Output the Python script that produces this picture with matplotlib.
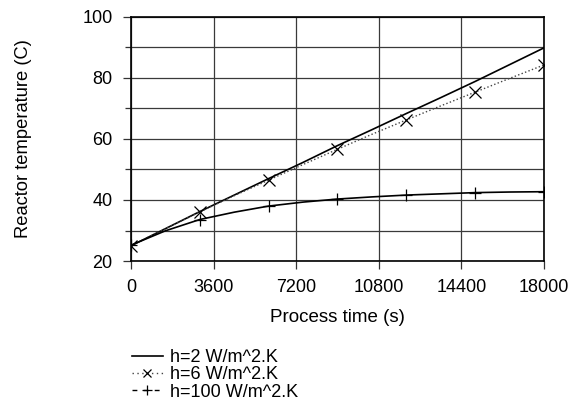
import numpy as np
import matplotlib
matplotlib.use('Agg')
import matplotlib.pyplot as plt
from matplotlib.lines import Line2D

plt.rcParams['font.family'] = ['Liberation Sans', 'DejaVu Sans']

# process time (s), every 1500 s; markers drawn every 3000 s
time_s = [0, 1500, 3000, 4500, 6000, 7500, 9000, 10500, 12000, 13500, 15000, 16500, 18000]

temp_h2 = [25.0, 30.6, 36.2, 41.6, 47.0, 52.3, 57.8, 63.0, 68.3, 73.5, 78.8, 84.3, 89.8]
temp_h6 = [25.0, 30.6, 36.1, 41.4, 46.5, 51.6, 56.6, 61.5, 66.2, 70.8, 75.3, 79.8, 84.2]
temp_h100 = [25.2, 29.9, 33.6, 36.0, 38.0, 39.3, 40.3, 41.0, 41.6, 42.0, 42.4, 42.6, 42.7]

labels = ['h=2 W/m^2.K', 'h=6 W/m^2.K', 'h=100 W/m^2.K']
xticks = [0, 3600, 7200, 10800, 14400, 18000]
yticks = [20, 40, 60, 80, 100]

fig = plt.figure(figsize=(5.70, 4.01), dpi=100)
ax = fig.add_axes([0.2298, 0.349, 0.9544 - 0.2298, 0.9584 - 0.349])

ax.plot(time_s, temp_h2, color='black', lw=1.2)
ax.plot(time_s, temp_h6, color='#444444', lw=1.0, ls=':', marker='x', markevery=2,
        ms=8, mec='black', mew=0.9)
ax.plot(time_s, temp_h100, color='black', lw=1.2, marker='+', markevery=2,
        ms=8, mec='black', mew=0.9)

ax.set_xlim(0, 18000)
ax.set_ylim(20, 100)
ax.set_xticks(xticks)
ax.set_yticks(yticks)
ax.set_yticks(np.arange(30, 100, 20), minor=True)
ax.grid(True, which='both', color='#3a3a3a', lw=0.9)
ax.set_axisbelow(True)
ax.tick_params(which='major', direction='out', length=5.8, width=0.9, labelsize=13, color='#333333')
ax.tick_params(which='minor', direction='out', length=4.2, width=0.9, color='#333333')
ax.tick_params(axis='y', pad=7.5)
ax.tick_params(axis='x', pad=7)
for s in ax.spines.values():
    s.set_linewidth(1.2)

ax.set_xlabel('Process time (s)', fontsize=13.5)
ax.xaxis.set_label_coords(0.5, -0.196)
ax.set_ylabel('Reactor temperature (C)', fontsize=13.2)
ax.yaxis.set_label_coords(-0.24, 0.5)

# legend handles drawn the way the original legend shows them
handles = [
    Line2D([], [], color='black', lw=1.2),
    Line2D([], [], color='#444444', lw=1.0, ls=(0, (1, 2.5)), marker='x', ms=6, mec='black', mew=0.9),
    Line2D([], [], color='black', lw=1.0, ls=(0, (3.5, 4.5)), marker='+', ms=7, mec='black', mew=0.9),
]
fig.legend(handles, labels, loc='upper left', bbox_to_anchor=(0.231, 0.130), frameon=False,
           fontsize=13, handlelength=1.75, handletextpad=0.4, labelspacing=0.02,
           borderpad=0, borderaxespad=0)

fig.savefig('out.png', dpi=100)
